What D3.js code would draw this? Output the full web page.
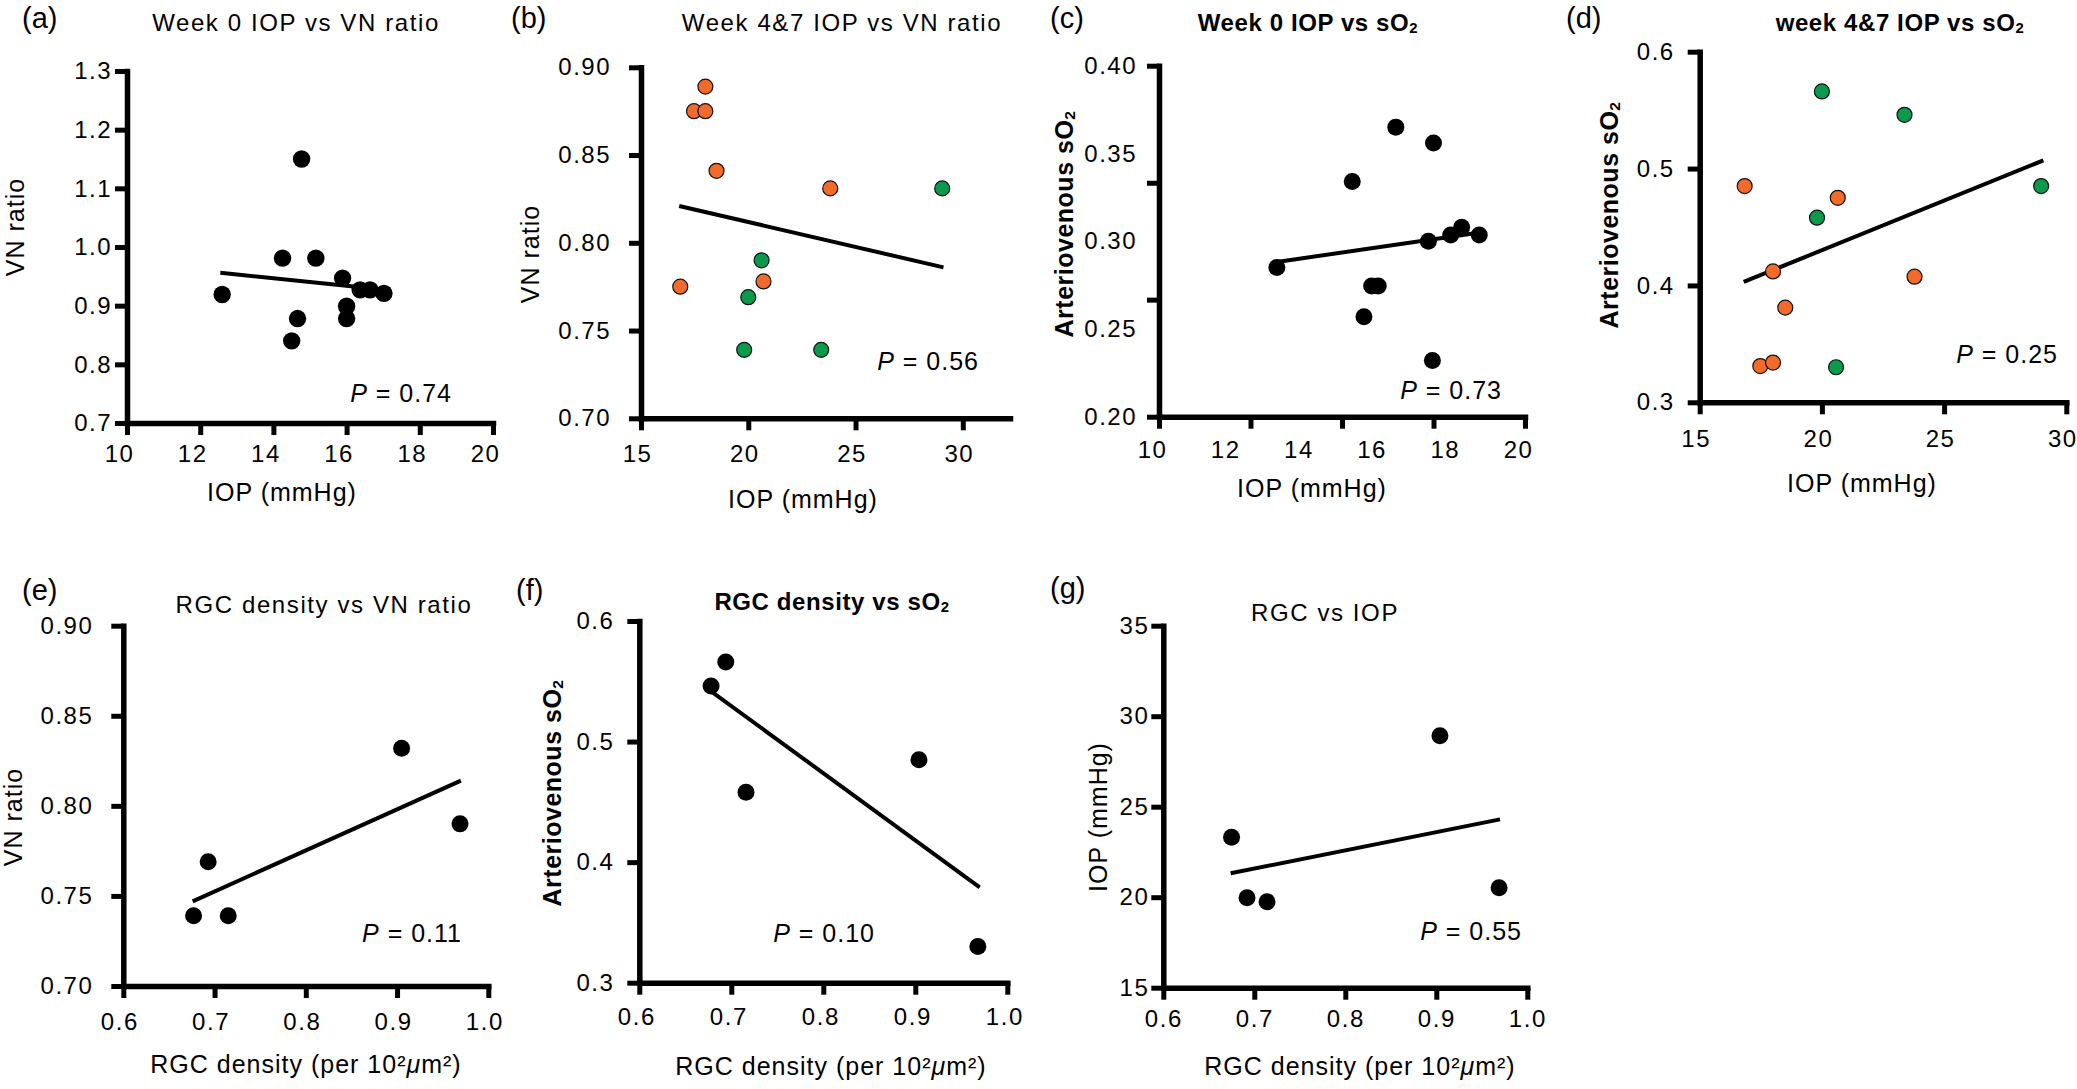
<!DOCTYPE html>
<html>
<head>
<meta charset="utf-8">
<script src="https://cdn.jsdelivr.net/npm/d3@7"></script>
<style>
  body { margin: 0; background: #fff; }
  svg text { font-family: "Liberation Sans", Arial, Helvetica, sans-serif; fill: #000; }
</style>
</head>
<body>
<svg id="fig" width="2077" height="1089"></svg>
<script>
// ---- data ----
// (a) week 0 IOP vs VN ratio
var w0Iop = [12.60, 14.77, 14.25, 15.16, 15.89, 16.37, 16.64, 17.02, 16.00, 16.00, 14.66, 14.50];
var w0Vn = [0.919, 1.150, 0.981, 0.981, 0.947, 0.927, 0.927, 0.921, 0.899, 0.878, 0.878, 0.840];
var fitAx = [12.55, 16.46];
var fitAy = [0.956, 0.931];

// (b) week 4&7 IOP vs VN ratio
var w47IopOrange = [18.00, 17.47, 18.00, 18.52, 23.82, 16.83, 20.71];
var w47VnOrange = [0.889, 0.875, 0.875, 0.841, 0.831, 0.775, 0.778];
var w47IopGreen = [29.04, 20.62, 20.00, 19.81, 23.40];
var w47VnGreen = [0.831, 0.790, 0.769, 0.739, 0.739];
var fitBx = [16.78, 29.10];
var fitBy = [0.821, 0.786];

// (c) week 0 IOP vs sO2
var w0IopC = [13.22, 16.47, 17.50, 15.28, 17.36, 17.97, 18.27, 18.75, 15.81, 15.99, 15.60, 17.47];
var w0So2 = [0.285, 0.365, 0.356, 0.334, 0.300, 0.3035, 0.308, 0.3035, 0.2745, 0.2745, 0.257, 0.232];
var fitCx = [13.17, 18.77];
var fitCy = [0.288, 0.305];

// (d) week 4&7 IOP vs sO2
var w47So2IopGreen = [20.00, 23.38, 28.97, 19.80, 20.58];
var w47So2Green = [0.566, 0.546, 0.485, 0.458, 0.330];
var w47So2IopOrange = [16.84, 20.65, 18.00, 23.79, 18.50, 17.48, 18.00];
var w47So2Orange = [0.485, 0.475, 0.412, 0.4075, 0.381, 0.331, 0.334];
var fitDx = [16.80, 29.06];
var fitDy = [0.403, 0.507];

// (e) RGC density vs VN ratio
var rgcE = [0.905, 0.969, 0.693, 0.677, 0.715];
var vnE = [0.832, 0.790, 0.769, 0.739, 0.739];
var fitEx = [0.676, 0.970];
var fitEy = [0.747, 0.814];

// (f) RGC density vs sO2
var rgcF = [0.694, 0.678, 0.716, 0.904, 0.968];
var so2F = [0.566, 0.546, 0.458, 0.485, 0.330];
var fitFx = [0.674, 0.970];
var fitFy = [0.544, 0.379];

// (g) RGC vs IOP
var rgcG = [0.904, 0.675, 0.969, 0.692, 0.714];
var iopG = [28.92, 23.31, 20.52, 19.97, 19.75];
var fitGx = [0.674, 0.970];
var fitGy = [21.32, 24.30];

// tick values
var iopTicks10 = [10, 12, 14, 16, 18, 20];
var iopTicks15 = [15, 20, 25, 30];
var vnTicksA = [0.7, 0.8, 0.9, 1.0, 1.1, 1.2, 1.3];
var vnTicks = [0.70, 0.75, 0.80, 0.85, 0.90];
var so2TicksC = [0.20, 0.25, 0.30, 0.35, 0.40];
var so2Ticks = [0.3, 0.4, 0.5, 0.6];
var rgcTicks = [0.6, 0.7, 0.8, 0.9, 1.0];
var iopTicksG = [15, 20, 25, 30, 35];
// panel (c) has its tick marks out of step with its labels
var cMarksX = [10, 12.5, 15, 17.5, 20];
var cMarksY = [0.2, 0.2667, 0.3333, 0.4];

var ORANGE = '#f26b2a';
var GREEN = '#0b9a4b';

var SO2 = [{t: 'Arteriovenous sO'}, {t: '2', sub: true}];
var RGCX = [{t: 'RGC density (per 10\u00b2'}, {t: '\u03bc', it: true}, {t: 'm\u00b2)'}];

var panels = [
  {
    letter: '(a)', lx: 22, ly: 28,
    title: [{t: 'Week 0 IOP vs VN ratio'}], tx: 296, ty: 31, tBold: false,
    ylab: [{t: 'VN ratio'}], yx: 24, yy: 227, yBold: false,
    xlab: [{t: 'IOP (mmHg)'}], xx: 282, xy: 501,
    p: '0.74', px: 452, py: 402,
    xDomain: [10, 20], xRange: [127, 493], yDomain: [0.7, 1.3], yRange: [423, 71],
    xMarks: iopTicks10, xLabels: iopTicks10, xFmt: 'd', xPad: 10, xShift: -8,
    yMarks: vnTicksA, yLabels: vnTicksA, yFmt: '.1f', yPad: 3,
    series: [{x: w0Iop, y: w0Vn, color: '#000', r: 8.7}],
    fitX: fitAx, fitY: fitAy
  },
  {
    letter: '(b)', lx: 511, ly: 28,
    title: [{t: 'Week 4&7 IOP vs VN ratio'}], tx: 842, ty: 31, tBold: false,
    ylab: [{t: 'VN ratio'}], yx: 539, yy: 254, yBold: false,
    xlab: [{t: 'IOP (mmHg)'}], xx: 803, xy: 508,
    p: '0.56', px: 979, py: 370,
    xDomain: [15, 32.2], xRange: [641, 1010], yDomain: [0.70, 0.90], yRange: [418.3, 67.3],
    xMarks: iopTicks15, xLabels: iopTicks15, xFmt: 'd', xPad: 15, xShift: -4,
    yMarks: vnTicks, yLabels: vnTicks, yFmt: '.2f', yPad: 18,
    series: [
      {x: w47IopOrange, y: w47VnOrange, color: ORANGE, r: 7.5, stroke: true},
      {x: w47IopGreen, y: w47VnGreen, color: GREEN, r: 7.5, stroke: true}
    ],
    fitX: fitBx, fitY: fitBy
  },
  {
    letter: '(c)', lx: 1050, ly: 28,
    title: [{t: 'Week 0 IOP vs sO'}, {t: '2', sub: true}], tx: 1308, ty: 31, tBold: true,
    ylab: SO2, yx: 1073, yy: 224, yBold: true,
    xlab: [{t: 'IOP (mmHg)'}], xx: 1312, xy: 497,
    p: '0.73', px: 1502, py: 399,
    xDomain: [10, 20], xRange: [1159, 1525], yDomain: [0.2, 0.4], yRange: [416.7, 65.7],
    xMarks: cMarksX, xLabels: iopTicks10, xFmt: 'd', xPad: 12, xShift: -7,
    yMarks: cMarksY, yLabels: so2TicksC, yFmt: '.2f', yPad: 10,
    series: [{x: w0IopC, y: w0So2, color: '#000', r: 8.5}],
    fitX: fitCx, fitY: fitCy
  },
  {
    letter: '(d)', lx: 1566, ly: 28,
    title: [{t: 'week 4&7 IOP vs sO'}, {t: '2', sub: true}], tx: 1900, ty: 31, tBold: true,
    ylab: SO2, yx: 1618, yy: 215, yBold: true,
    xlab: [{t: 'IOP (mmHg)'}], xx: 1862, xy: 492,
    p: '0.25', px: 2058, py: 363,
    xDomain: [15, 30], xRange: [1699.7, 2066.3], yDomain: [0.3, 0.6], yRange: [402.3, 51.7],
    xMarks: iopTicks15, xLabels: iopTicks15, xFmt: 'd', xPad: 16, xShift: -4,
    yMarks: so2Ticks, yLabels: so2Ticks, yFmt: '.1f', yPad: 13,
    series: [
      {x: w47So2IopOrange, y: w47So2Orange, color: ORANGE, r: 7.5, stroke: true},
      {x: w47So2IopGreen, y: w47So2Green, color: GREEN, r: 7.5, stroke: true}
    ],
    fitX: fitDx, fitY: fitDy
  },
  {
    letter: '(e)', lx: 22, ly: 600,
    title: [{t: 'RGC density vs VN ratio'}], tx: 324, ty: 613, tBold: false,
    ylab: [{t: 'VN ratio'}], yx: 22, yy: 817, yBold: false,
    xlab: RGCX, xx: 306, xy: 1073,
    p: '0.11', px: 462, py: 942,
    xDomain: [0.6, 1.0], xRange: [123.3, 488.3], yDomain: [0.7, 0.9], yRange: [986, 625.7],
    xMarks: rgcTicks, xLabels: rgcTicks, xFmt: '.1f', xPad: 15, xShift: -4,
    yMarks: vnTicks, yLabels: vnTicks, yFmt: '.2f', yPad: 18,
    series: [{x: rgcE, y: vnE, color: '#000', r: 8.5}],
    fitX: fitEx, fitY: fitEy
  },
  {
    letter: '(f)', lx: 516, ly: 600,
    title: [{t: 'RGC density vs sO'}, {t: '2', sub: true}], tx: 832, ty: 610, tBold: true,
    ylab: SO2, yx: 561, yy: 793, yBold: true,
    xlab: RGCX, xx: 831, xy: 1075,
    p: '0.10', px: 875, py: 942,
    xDomain: [0.6, 1.0], xRange: [639.3, 1007.3], yDomain: [0.3, 0.6], yRange: [982.7, 621],
    xMarks: rgcTicks, xLabels: rgcTicks, xFmt: '.1f', xPad: 13, xShift: -3,
    yMarks: so2Ticks, yLabels: so2Ticks, yFmt: '.1f', yPad: 13,
    series: [{x: rgcF, y: so2F, color: '#000', r: 8.5}],
    fitX: fitFx, fitY: fitFy
  },
  {
    letter: '(g)', lx: 1050, ly: 598,
    title: [{t: 'RGC vs IOP'}], tx: 1325, ty: 621, tBold: false,
    ylab: [{t: 'IOP (mmHg)'}], yx: 1107, yy: 817, yBold: false,
    xlab: RGCX, xx: 1360, xy: 1075,
    p: '0.55', px: 1522, py: 940,
    xDomain: [0.6, 1.0], xRange: [1163.3, 1527.3], yDomain: [15, 35], yRange: [987.7, 625.7],
    xMarks: rgcTicks, xLabels: rgcTicks, xFmt: '.1f', xPad: 10, xShift: 0,
    yMarks: iopTicksG, yLabels: iopTicksG, yFmt: 'd', yPad: 2,
    series: [{x: rgcG, y: iopG, color: '#000', r: 8.5}],
    fitX: fitGx, fitY: fitGy
  }
];

var svg = d3.select('#fig');

// writes a list of text pieces (plain / subscript / italic) into a text node
function rich(text, parts, size) {
  var back = 0;
  parts.forEach(function(part) {
    var ts = text.append('tspan').text(part.t);
    var dy = back;
    back = 0;
    if (part.sub) {
      ts.attr('font-size', size * 0.62);
      dy += size * 0.08;
      back = -size * 0.08;
    }
    if (part.it) {
      ts.attr('font-style', 'italic');
    }
    if (dy) ts.attr('dy', dy);
  });
}

function drawPanel(p) {
  var g = svg.append('g');
  var x = d3.scaleLinear().domain(p.xDomain).range(p.xRange);
  var y = d3.scaleLinear().domain(p.yDomain).range(p.yRange);

  // fitted line
  g.append('line')
    .attr('x1', x(p.fitX[0])).attr('y1', y(p.fitY[0]))
    .attr('x2', x(p.fitX[1])).attr('y2', y(p.fitY[1]))
    .attr('stroke', '#000')
    .attr('stroke-width', 4);

  // points
  p.series.forEach(function(s) {
    g.selectAll(null)
      .data(d3.zip(s.x, s.y))
      .enter()
      .append('circle')
      .attr('cx', function(d) { return x(d[0]); })
      .attr('cy', function(d) { return y(d[1]); })
      .attr('r', s.r)
      .attr('fill', s.color)
      .attr('stroke', s.stroke ? '#111' : 'none')
      .attr('stroke-width', s.stroke ? 1.2 : 0);
  });

  // tick marks and axis lines
  var xMarks = g.append('g')
    .attr('transform', 'translate(0,' + p.yRange[0] + ')')
    .call(d3.axisBottom(x).tickValues(p.xMarks).tickSize(12).tickSizeOuter(0).tickFormat(''));
  var yMarks = g.append('g')
    .attr('transform', 'translate(' + p.xRange[0] + ',0)')
    .call(d3.axisLeft(y).tickValues(p.yMarks).tickSize(12).tickSizeOuter(0).tickFormat(''));
  [xMarks, yMarks].forEach(function(a) {
    a.select('.domain').attr('stroke-width', 5.5).attr('stroke-linecap', 'square');
    a.selectAll('.tick line').attr('stroke-width', 5);
    a.selectAll('text').remove();
  });

  // tick labels
  var xLab = g.append('g')
    .attr('transform', 'translate(' + p.xShift + ',' + p.yRange[0] + ')')
    .call(d3.axisBottom(x).tickValues(p.xLabels).tickSize(12).tickPadding(p.xPad).tickFormat(d3.format(p.xFmt)));
  var yLab = g.append('g')
    .attr('transform', 'translate(' + p.xRange[0] + ',0)')
    .call(d3.axisLeft(y).tickValues(p.yLabels).tickSize(12).tickPadding(p.yPad).tickFormat(d3.format(p.yFmt)));
  [xLab, yLab].forEach(function(a) {
    a.attr('font-family', null).attr('font-size', null);
    a.select('.domain').remove();
    a.selectAll('.tick line').remove();
    a.selectAll('text')
      .attr('fill', '#000')
      .style('font-size', '24px')
      .style('letter-spacing', '1.5px');
  });

  // panel letter
  svg.append('text')
    .attr('x', p.lx).attr('y', p.ly)
    .style('font-size', '29px')
    .text(p.letter);

  // title
  var t = svg.append('text')
    .attr('x', p.tx).attr('y', p.ty)
    .attr('text-anchor', 'middle')
    .style('font-size', '24px')
    .style('letter-spacing', p.tBold ? '0.6px' : '1.6px')
    .style('font-weight', p.tBold ? 'bold' : 'normal');
  rich(t, p.title, 24);

  // y label
  var yl = svg.append('text')
    .attr('transform', 'translate(' + p.yx + ',' + p.yy + ') rotate(-90)')
    .attr('text-anchor', 'middle')
    .style('font-size', '25px')
    .style('letter-spacing', p.yBold ? '0.5px' : '1px')
    .style('font-weight', p.yBold ? 'bold' : 'normal');
  rich(yl, p.ylab, 25);

  // x label
  var xl = svg.append('text')
    .attr('x', p.xx).attr('y', p.xy)
    .attr('text-anchor', 'middle')
    .style('font-size', '25px')
    .style('letter-spacing', '1px');
  rich(xl, p.xlab, 25);

  // P value
  var pt = svg.append('text')
    .attr('x', p.px).attr('y', p.py)
    .attr('text-anchor', 'end')
    .style('font-size', '25px')
    .style('letter-spacing', '1px');
  pt.append('tspan').style('font-style', 'italic').text('P');
  pt.append('tspan').text(' = ' + p.p);
}

panels.forEach(drawPanel);
</script>
</body>
</html>
